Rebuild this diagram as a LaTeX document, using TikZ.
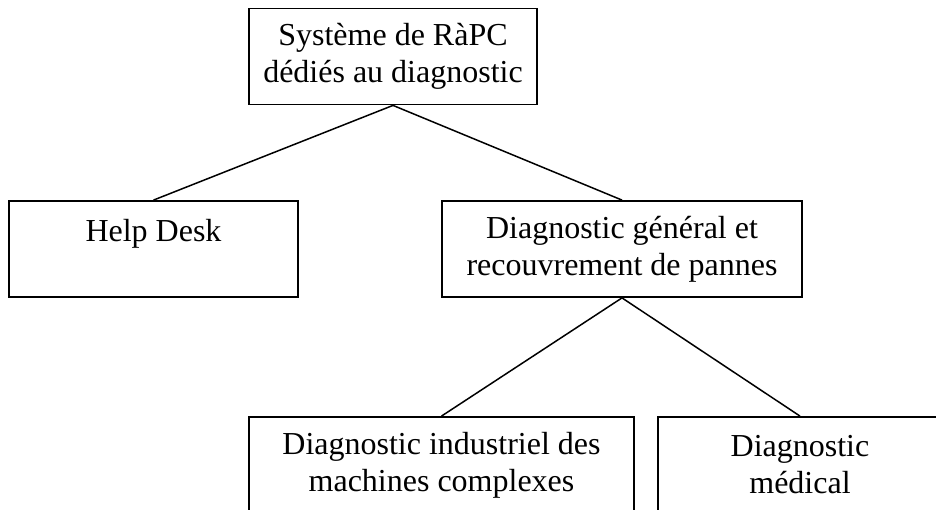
\documentclass[tikz,border=0pt]{standalone}
\usepackage{fontspec}
\setmainfont{Liberation Serif}

\begin{document}
\begin{tikzpicture}[%
        x = 1pt,
        y = -1pt,
        line width = 1.8pt,
        box/.style = {
            draw = black,
            rectangle,
            align = center,
            inner sep = 0,
            minimum height = 96pt,
            font = \fontsize{32}{37}\selectfont
        },
        link/.style = {
            draw = black,
            line width = 1.5pt
        }
    ]

        % Fix the page to the size of the reference.
        \useasboundingbox (0, 0) rectangle (936, 510);

        % Root of the tree.
        \node[box, minimum width = 288pt] at (393, 56.5) (root)
            {Système de RàPC\\dédiés au diagnostic};

        % Second level.
        \node[box, minimum width = 289pt] at (153.5, 249) (help)
            {Help Desk\\~};
        \node[box, minimum width = 360pt] at (622, 249) (gen)
            {Diagnostic général et\\recouvrement de pannes};

        % Third level.
        \node[box, minimum width = 385pt] at (441.5, 465) (indus)
            {Diagnostic industriel des\\machines complexes};
        \node[box, minimum width = 284pt] at (800, 465) (med)
            {Diagnostic\\médical};

        % Draw the branches.
        \draw[link] (root.south) -- (help.north);
        \draw[link] (root.south) -- (gen.north);
        \draw[link] (gen.south) -- (indus.north);
        \draw[link] (gen.south) -- (med.north);
    \end{tikzpicture}
\end{document}
